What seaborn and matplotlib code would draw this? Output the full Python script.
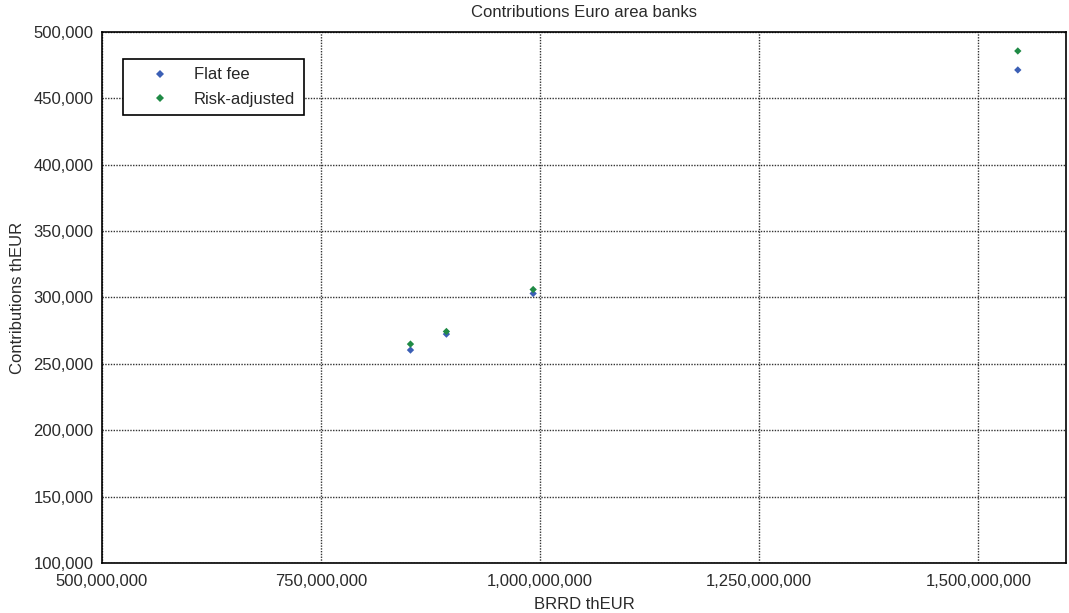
import matplotlib
matplotlib.use("Agg")
import matplotlib.pyplot as plt
import matplotlib.ticker as mticker
import numpy as np
import pandas as pd
import seaborn as sns

# BRRD base (thEUR) for each scenario and resulting contributions (thEUR)
brrd = [852_000_000, 893_000_000, 992_000_000, 1_545_000_000]
flat_fee = [260_400, 272_400, 303_000, 471_400]
risk_adjusted = [264_900, 274_400, 306_000, 485_700]
series_names = ["Flat fee", "Risk-adjusted"]
palette = {"Flat fee": "#3b5fb5", "Risk-adjusted": "#1f8a45"}

df = pd.DataFrame({
    "BRRD thEUR": brrd * 2,
    "Contributions thEUR": flat_fee + risk_adjusted,
    "Series": [series_names[0]] * len(brrd) + [series_names[1]] * len(brrd),
})

sns.set_style("white")
plt.rcParams["font.family"] = ["Liberation Sans", "DejaVu Sans"]
plt.rcParams["font.size"] = 12

text_col = "#2a2a2a"

fig = plt.figure(figsize=(10.69, 6.13), dpi=100)
ax = fig.add_axes([0.0954, 0.0816, 0.9018, 0.8662])

sns.scatterplot(data=df, x="BRRD thEUR", y="Contributions thEUR", hue="Series",
                hue_order=series_names, palette=palette, marker="D", s=14,
                edgecolor="none", ax=ax, zorder=3)

ax.set_xlim(500_000_000, 1_600_000_000)
ax.set_ylim(100_000, 500_000)
ax.set_xticks(np.arange(500_000_000, 1_500_000_001, 250_000_000))
ax.set_yticks(np.arange(100_000, 500_001, 50_000))
fmt = mticker.FuncFormatter(lambda v, p: f"{v:,.0f}")
ax.xaxis.set_major_formatter(fmt)
ax.yaxis.set_major_formatter(fmt)

ax.grid(True, color="#333333", linestyle=(0, (1, 1)), linewidth=1.0)
ax.set_axisbelow(True)
for sp in ax.spines.values():
    sp.set_color("black")
    sp.set_linewidth(1.2)
ax.tick_params(direction="in", length=4, width=0.8, colors="black",
               labelcolor=text_col, labelsize=12)
ax.tick_params(axis="x", pad=8)
ax.tick_params(axis="y", pad=6)

ax.set_title("Contributions Euro area banks", fontsize=12, color=text_col, pad=11)
ax.set_xlabel("BRRD thEUR", fontsize=12, color=text_col, labelpad=6)
ax.set_ylabel("Contributions thEUR", fontsize=12, color=text_col, labelpad=6)

leg = ax.legend(title=None, loc="upper left", bbox_to_anchor=(0.022, 0.949),
                frameon=True, fancybox=False, edgecolor="black", framealpha=1,
                fontsize=12, markerscale=1.0, handlelength=3.45,
                handletextpad=0.3, borderpad=0.5, labelspacing=0.56,
                borderaxespad=0)
leg.get_frame().set_linewidth(1.2)

fig.savefig("out.png", dpi=100)
